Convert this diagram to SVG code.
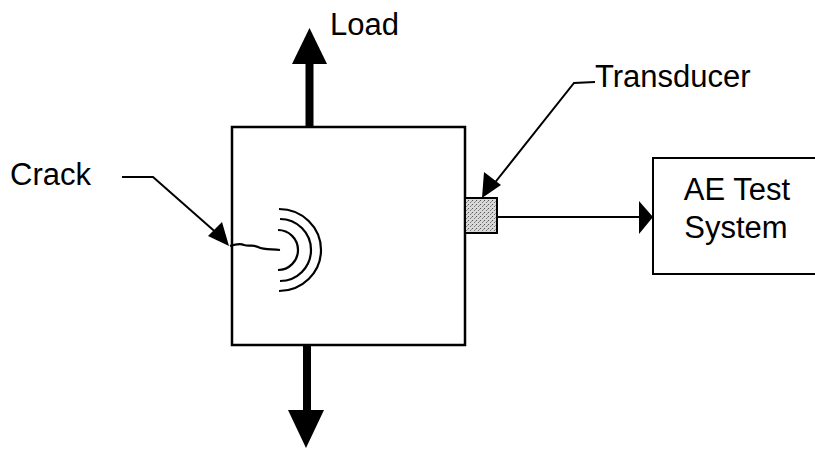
<svg xmlns="http://www.w3.org/2000/svg" width="815" height="450" viewBox="0 0 815 450">
<style>
text{font-family:"Liberation Sans",Arial,sans-serif;font-size:31px;fill:#000}
.ln{stroke:#000;stroke-width:2;fill:none}
.thick{stroke:#000;stroke-width:8;fill:none}
.arc{stroke:#000;stroke-width:2.2;fill:none}
</style>
<defs>
<pattern id="stip" width="4" height="4" patternUnits="userSpaceOnUse">
<rect width="4" height="4" fill="#d8d8d8"/>
<rect x="0" y="0" width="1" height="1" fill="#555"/>
<rect x="2" y="2" width="1" height="1" fill="#777"/>
<rect x="3" y="1" width="1" height="1" fill="#999"/>
</pattern>
</defs>
<g id="specimen">
<rect x="232" y="127" width="233" height="218" fill="#fff" stroke="#000" stroke-width="2.5"/>
<path d="M230 246 C236 244 240 243 244 245 C250 247 252 244 258 247 C264 250 270 249 280 250" stroke="#000" stroke-width="2.2" fill="none"/>
<path class="arc" d="M278 230 A20 20 0 0 1 278 270"/>
<path class="arc" d="M280 219 A31 31 0 0 1 280 281"/>
<path class="arc" d="M279 209 A42 41 0 0 1 279 291"/>
</g>
<g id="transducer">
<rect x="465" y="198" width="32" height="35" fill="url(#stip)" stroke="#000" stroke-width="2"/>
</g>
<g id="ae-system">
<rect x="653" y="158" width="175" height="116" fill="#fff" stroke="#000" stroke-width="2"/>
<text x="737" y="200" text-anchor="middle">AE Test</text>
<text x="736" y="238" text-anchor="middle">System</text>
</g>
<g id="labels">
<text x="330" y="35">Load</text>
<text x="10" y="185">Crack</text>
<text x="595" y="87">Transducer</text>
</g>
<g id="connectors">
<line class="thick" x1="309.5" y1="127" x2="309.5" y2="62"/>
<polygon points="309.5,28 292,64 327,64"/>
<line class="thick" x1="307" y1="345" x2="307" y2="412"/>
<polygon points="306,448 288,410 324,410"/>
<polyline class="ln" points="122,177 153,177 220,236"/>
<polygon points="229,246 208,236 222,222"/>
<polyline class="ln" points="595,82 574,83 493,185"/>
<polygon points="482,198 484,172 501,185"/>
<line class="ln" x1="497" y1="217" x2="642" y2="217"/>
<polygon points="653,217 639,201 639,234"/>
</g>
</svg>
